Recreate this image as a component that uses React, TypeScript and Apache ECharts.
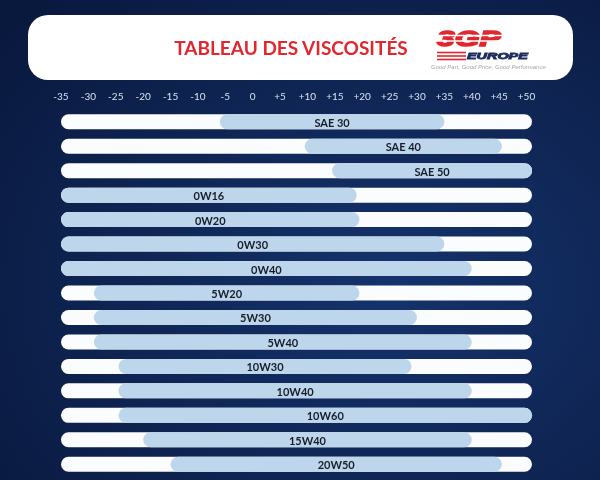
import React, { useEffect, useRef } from "react";
import * as echarts from "echarts";

const categories = [
  "SAE 30", "SAE 40", "SAE 50", "0W16", "0W20", "0W30", "0W40",
  "5W20", "5W30", "5W40", "10W30", "10W40", "10W60", "15W40", "20W50",
];
const lowTemps = [-6, 9.5, 14.5, -35, -35, -35, -35, -29, -29, -29, -24.5, -24.5, -24.5, -20, -15];
const highTemps = [35, 45.5, 51, 19, 19.5, 35, 40, 19.5, 30, 40, 29, 40, 51, 40, 45.5];
const axisMin = -35;
const axisMax = 51;
const tickStep = 5;
const title = "TABLEAU DES VISCOSITÉS";
const brandMain = "3GP";
const brandSub = "EUROPE";
const tagline = "Good Part, Good Price, Good Performance";

export default function App() {
  const ref = useRef<HTMLDivElement>(null);

  useEffect(() => {
    if (!ref.current) return;
    const chart = echarts.init(ref.current, undefined, { renderer: "svg" });
    const data = categories.map((c, i) => [i, lowTemps[i], highTemps[i]]);

    const option: any = {
      animation: false,
      backgroundColor: {
        type: "radial",
        x: 0.65,
        y: 0.6,
        r: 0.85,
        colorStops: [
          { offset: 0, color: "#15336c" },
          { offset: 1, color: "#09183d" },
        ],
      },
      grid: { left: 61, right: 68, top: 109.5, bottom: 3.5, outerBoundsMode: "none" },
      xAxis: {
        type: "value",
        position: "top",
        min: axisMin,
        max: axisMax,
        interval: tickStep,
        axisLine: { show: false },
        axisTick: { show: false },
        splitLine: { show: false },
        axisLabel: {
          color: "#d9e1ef",
          fontSize: 10,
          fontFamily: "Lato",
          margin: 9,
          formatter: (v: number) =>
            v % tickStep !== 0 ? "" : v > 0 ? "+" + v : String(v),
        },
      },
      yAxis: {
        type: "category",
        data: categories,
        inverse: true,
        show: false,
      },
      series: [
        {
          type: "custom",
          data,
          encode: { x: [1, 2], y: 0 },
          renderItem: (params: any, api: any) => {
            const idx = api.value(0);
            const low = api.value(1);
            const high = api.value(2);
            const cs = params.coordSys;
            const s = api.coord([low, idx]);
            const e = api.coord([high, idx]);
            const h = 15;
            return {
              type: "group",
              children: [
                {
                  type: "rect",
                  shape: { x: cs.x, y: s[1] - h / 2, width: cs.width, height: h, r: h / 2 },
                  style: { fill: "#fbfcfe" },
                },
                {
                  type: "rect",
                  shape: { x: s[0], y: s[1] - h / 2, width: e[0] - s[0], height: h, r: h / 2 },
                  style: { fill: "#bed6eb" },
                },
                {
                  type: "text",
                  style: {
                    text: categories[idx],
                    x: (s[0] + e[0]) / 2,
                    y: s[1] + 0.5,
                    align: "center",
                    verticalAlign: "middle",
                    fill: "#161c2a",
                    font: "bold 11px Lato",
                  },
                },
              ],
            };
          },
        },
      ],
      graphic: [
        {
          type: "rect",
          shape: { x: 28, y: 15, width: 545, height: 65, r: 20 },
          style: { fill: "#ffffff" },
        },
        {
          type: "text",
          x: 291,
          y: 47.5,
          style: {
            text: title,
            font: "bold 19px Lato",
            fill: "#e2262d",
            align: "center",
            verticalAlign: "middle",
            textAlign: "center",
            textVerticalAlign: "middle",
          },
        },
        {
          type: "text",
          x: 437,
          y: 38.5,
          scaleX: 1.45,
          style: {
            text: brandMain,
            font: "italic bold 22px 'Liberation Sans'",
            fill: "#e2262d",
            stroke: "#e2262d",
            lineWidth: 1.6,
            align: "left",
            verticalAlign: "middle",
            textAlign: "left",
            textVerticalAlign: "middle",
          },
        },
        { type: "line", shape: { x1: 434, y1: 35.5, x2: 512, y2: 35.5 }, style: { stroke: "#ffffff", lineWidth: 1.3 } },
        { type: "line", shape: { x1: 434, y1: 41, x2: 512, y2: 41 }, style: { stroke: "#ffffff", lineWidth: 1.3 } },
        { type: "line", shape: { x1: 437, y1: 52.5, x2: 466, y2: 52.5 }, style: { stroke: "#e2262d", lineWidth: 1.6 } },
        { type: "line", shape: { x1: 437, y1: 56, x2: 466, y2: 56 }, style: { stroke: "#e2262d", lineWidth: 1.6 } },
        { type: "line", shape: { x1: 437, y1: 59.5, x2: 466, y2: 59.5 }, style: { stroke: "#e2262d", lineWidth: 1.6 } },
        {
          type: "text",
          x: 467,
          y: 56.5,
          scaleX: 1.6,
          style: {
            text: brandSub,
            font: "italic bold 9px 'Liberation Sans'",
            fill: "#1c2a5c",
            stroke: "#1c2a5c",
            lineWidth: 0.8,
            align: "left",
            verticalAlign: "middle",
            textAlign: "left",
            textVerticalAlign: "middle",
          },
        },
        {
          type: "text",
          x: 431,
          y: 66.5,
          style: {
            text: tagline,
            font: "italic 6px 'Liberation Sans'",
            fill: "#a0a6b0",
            align: "left",
            verticalAlign: "middle",
            textAlign: "left",
            textVerticalAlign: "middle",
          },
        },
      ],
    };

    chart.setOption(option);
    return () => chart.dispose();
  }, []);

  return (
    <div
      ref={ref}
      style={{ position: "fixed", left: 0, top: 0, width: 600, height: 480 }}
    />
  );
}
